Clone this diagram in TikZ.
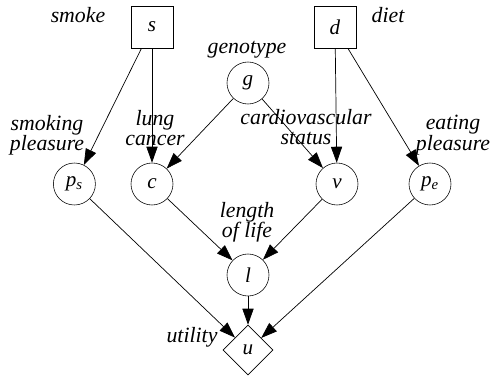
\documentclass[tikz,border=0pt]{standalone}
\usepackage{fontspec}
\setmainfont{Liberation Serif}
\usetikzlibrary{shapes.geometric,arrows.meta}

\tikzset{
	chance/.style={draw, circle, minimum size=1.05cm, inner sep=0pt},
	choice/.style={draw, rectangle, minimum size=1.05cm, inner sep=0pt},
	payoff/.style={draw, diamond, minimum size=1.25cm, inner sep=0pt, aspect=1},
	lbl/.style={align=center, font=\fontsize{15.5}{14.5}\selectfont\itshape},
	inf/.style={-{Triangle[length=4mm,width=2.8mm]}, line width=0.5pt},
	every node/.append style={font=\fontsize{15}{14.5}\selectfont\itshape}
}

\begin{document}
		\begin{tikzpicture}
			\useasboundingbox (0, 0) rectangle (12.3, 9.375);

			\node[choice] (s) at(3.8, 8.7){s};
			\node[choice] (d) at(8.375, 8.7){d};
			\node[chance] (g) at(6.2, 7.3){g};

			\node[chance] (ps) at(1.86, 4.775){p\textsubscript{s}};
			\node[chance] (c) at(3.8, 4.775){c};
			\node[chance] (v) at(8.425, 4.775){v};
			\node[chance] (pe) at(10.75, 4.775){p\textsubscript{e}};

			\node[chance] (l) at(6.2, 2.5){l};
			\node[payoff] (u) at(6.2, 0.625){u};

			\node[lbl] (smoke) at(1.95, 9.0){smoke};
			\node[lbl] (genotype) at(6.175, 8.125){genotype};
			\node[lbl] (diet) at(9.7, 9.0){diet};
			\node[lbl] (smokepl) at(1.175, 6.0){smoking\\pleasure};
			\node[lbl] (lungc) at(3.875, 6.175){lung\\cancer};
			\node[lbl] (cardio) at(7.65, 6.2){cardiovascular\\status};
			\node[lbl] (eatpl) at(11.325, 6.0){eating\\pleasure};
			\node[lbl] (lenlife) at(6.175, 3.825){length\\of life};
			\node[lbl] (utility) at(4.8, 0.95){utility};

			\draw[inf] (s) to (ps);
			\draw[inf] (s) to (c);
			\draw[inf] (g) to (c);
			\draw[inf] (g) to (v);
			\draw[inf] (d) to (v);
			\draw[inf] (d) to (pe);

			\draw[inf] (ps) to (u);
			\draw[inf] (c) to (l);
			\draw[inf] (v) to (l);
			\draw[inf] (pe) to (u);
			\draw[inf] (l) to (u);

		\end{tikzpicture}
\end{document}
